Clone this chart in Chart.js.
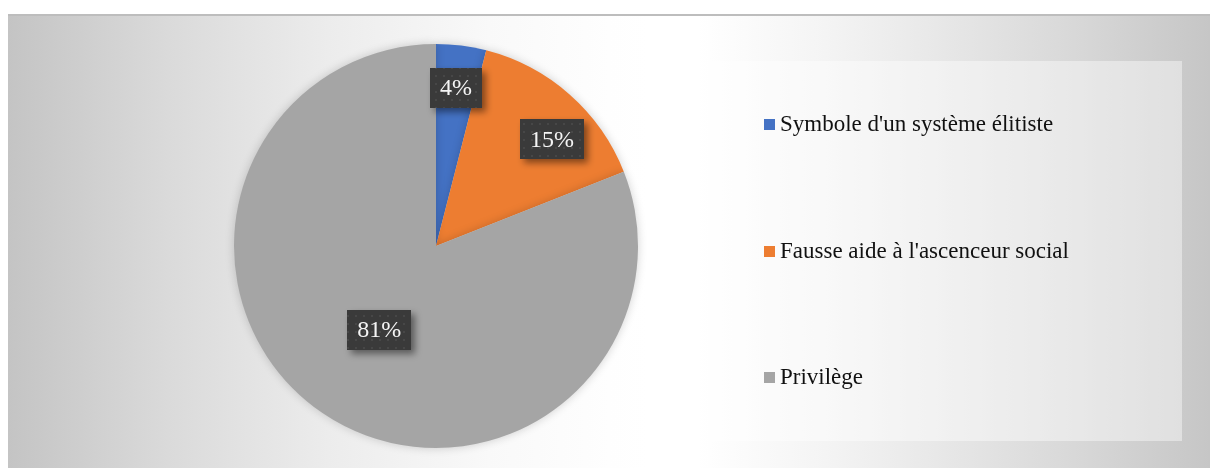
<!DOCTYPE html>
<html>
<head>
<meta charset="utf-8">
<script src="https://cdn.jsdelivr.net/npm/chart.js@4/dist/chart.umd.min.js"></script>
<style>
    html, body { margin: 0; padding: 0; background: #fff; }
    body { width: 1210px; height: 468px; position: relative; overflow: hidden; }
    #frame {
        position: absolute; left: 8px; top: 14px; width: 1202px; height: 454px;
        border-top: 2px solid #bdbdbd; box-sizing: border-box;
        background: linear-gradient(90deg, #c4c4c4 0%, #dadada 13.3%, #ececec 26.6%, #f9f9f9 40%, #fefefe 50%, #ffffff 53.2%,
            #ffffff 57.4%, #f4f4f4 68%, #e6e6e6 78.7%, #d7d7d7 89.4%, #c6c6c6 100%);
    }
    #chartWrap { position: absolute; left: 0; top: 0; width: 1202px; height: 454px; }
    #legendBox {
        position: absolute; left: 661px; top: 45px; width: 513px; height: 380px;
        background: rgba(255,255,255,0.42);
        font-family: "Liberation Serif", "Times New Roman", serif; font-size: 23px; color: #111;
    }
    .item { position: absolute; left: 95px; height: 26px; line-height: 26px; white-space: nowrap; }
    .item i { display: inline-block; width: 11px; height: 11px; margin-right: 5px; vertical-align: 1px; }
</style>
</head>
<body>
<div id="frame">
    <div id="chartWrap"><canvas id="chartPie"></canvas></div>
    <div id="legendBox"></div>
</div>
<script>
(function () {
    "use strict";

    const labels = ["Symbole d'un système élitiste", "Fausse aide à l'ascenceur social", "Privilège"];
    const values = [4, 15, 81];
    const colors = ["#4472c4", "#ed7d31", "#a5a5a5"];
    const labelRadius = [0.79, 0.78, 0.5];
    const labelShift = [0, 6, 0]; // degrees

    const get = (id) => document.getElementById(id);

    // legend in the translucent box
    const legendBox = get("legendBox");
    const rowsTop = [50, 177, 303];
    labels.forEach((txt, i) => {
        const row = document.createElement("div");
        row.className = "item";
        row.style.top = rowsTop[i] + "px";
        row.innerHTML = '<i style="background:' + colors[i] + '"></i>';
        row.appendChild(document.createTextNode(txt));
        legendBox.appendChild(row);
    });

    // dotted dark texture for the data labels
    const tile = document.createElement("canvas");
    tile.width = 8; tile.height = 8;
    const tctx = tile.getContext("2d");
    tctx.fillStyle = "#3a3a3a";
    tctx.fillRect(0, 0, 8, 8);
    tctx.fillStyle = "#474747";
    tctx.fillRect(3, 3, 2, 2);

    const pieLabels = {
        id: "pieLabels",
        afterDatasetsDraw(chart) {
            const ctx = chart.ctx;
            const meta = chart.getDatasetMeta(0);
            const pattern = ctx.createPattern(tile, "repeat");
            ctx.save();
            ctx.font = "24px 'Liberation Serif', 'Times New Roman', serif";
            ctx.textAlign = "center";
            ctx.textBaseline = "middle";
            meta.data.forEach((arc, i) => {
                const p = arc.getProps(["x", "y", "startAngle", "endAngle", "outerRadius"], true);
                const mid = (p.startAngle + p.endAngle) / 2 + labelShift[i] * Math.PI / 180;
                const r = p.outerRadius * labelRadius[i];
                const cx = p.x + Math.cos(mid) * r;
                const cy = p.y + Math.sin(mid) * r;
                const text = values[i] + "%";
                const w = ctx.measureText(text).width + 20;
                const h = 40;
                ctx.save();
                ctx.shadowColor = "rgba(0,0,0,0.45)";
                ctx.shadowBlur = 7;
                ctx.shadowOffsetX = 4;
                ctx.shadowOffsetY = 4;
                ctx.fillStyle = pattern;
                ctx.fillRect(Math.round(cx - w / 2), Math.round(cy - h / 2), Math.round(w), h);
                ctx.restore();
                ctx.fillStyle = "#f4f4f4";
                ctx.fillText(text, cx, cy + 1);
            });
            ctx.restore();
        }
    };

    const pieShadow = {
        id: "pieShadow",
        beforeDatasetsDraw(chart) {
            chart.ctx.save();
            chart.ctx.shadowColor = "rgba(0,0,0,0.18)";
            chart.ctx.shadowBlur = 10;
        },
        afterDatasetsDraw(chart) {
            chart.ctx.restore();
        }
    };

    new Chart(get("chartPie"), {
        type: "pie",
        data: {
            labels: labels,
            datasets: [{ data: values, backgroundColor: colors, borderWidth: 0 }]
        },
        options: {
            responsive: true,
            maintainAspectRatio: false,
            animation: false,
            layout: { padding: { left: 226, right: 572, top: 28, bottom: 22 } },
            plugins: {
                legend: { display: false },
                tooltip: { enabled: false }
            }
        },
        plugins: [pieShadow, pieLabels]
    });
})();
</script>
</body>
</html>
